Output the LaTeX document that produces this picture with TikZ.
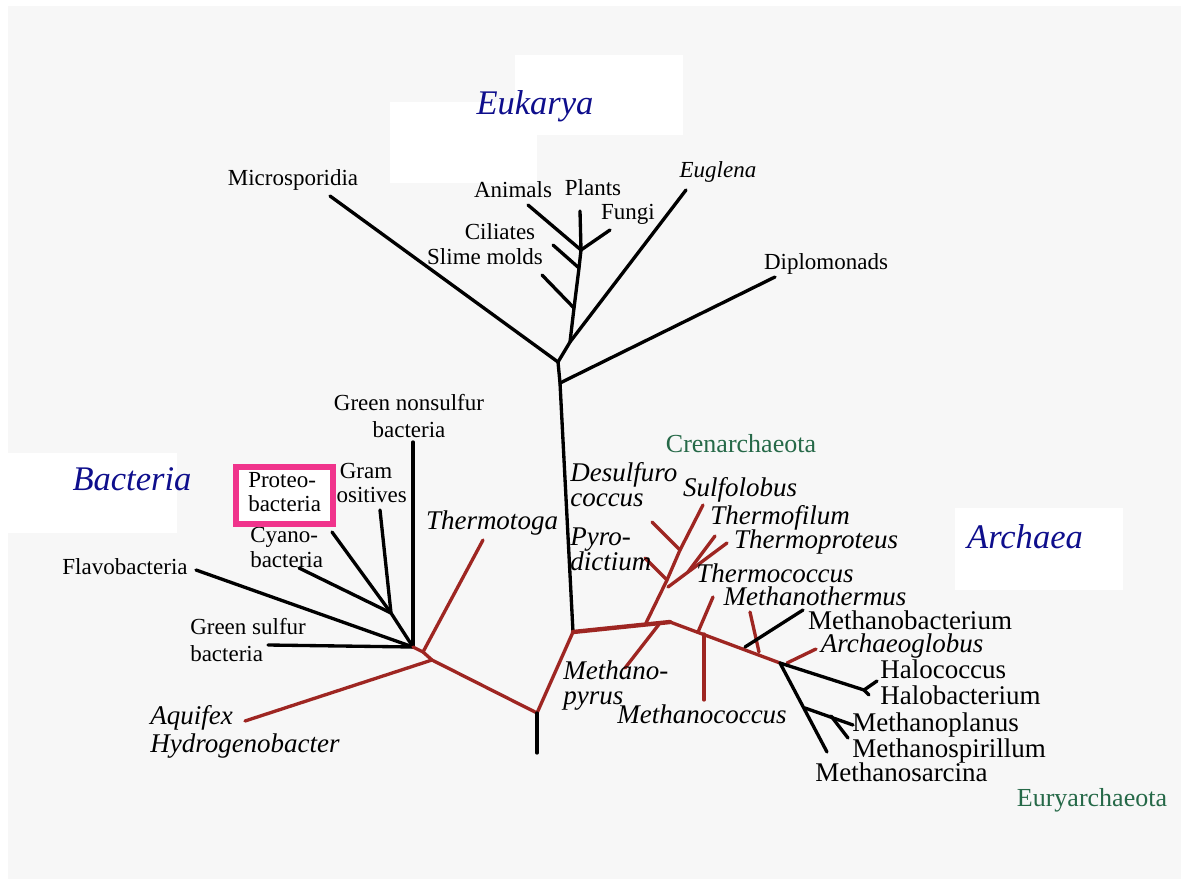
\documentclass[tikz,border=0pt]{standalone}
\usepackage{fontspec}
\setmainfont{Liberation Serif}
\definecolor{paper}{RGB}{247,247,247}
\definecolor{treered}{RGB}{158,38,34}
\definecolor{domainblue}{RGB}{14,14,140}
\definecolor{cladegreen}{RGB}{38,105,72}
\definecolor{boxpink}{RGB}{240,52,140}
\begin{document}
\begin{tikzpicture}[x=0.75pt,y=-0.75pt,
  taxon/.style={inner sep=0pt,anchor=base,font=\fontsize{17.25}{20.25}\selectfont},
  taxonL/.style={inner sep=0pt,anchor=base,font=\fontsize{20.25}{19}\selectfont},
  taxonI/.style={inner sep=0pt,anchor=base,font=\fontsize{20.25}{19}\selectfont\itshape},
  domainlbl/.style={inner sep=0pt,anchor=base,text=domainblue,font=\fontsize{25.9}{28}\selectfont\itshape},
  cladelbl/.style={inner sep=0pt,anchor=base,text=cladegreen,font=\fontsize{19.5}{22}\selectfont},
  blkline/.style={draw=black,line width=2.5pt,line cap=round,line join=round},
  redline/.style={draw=treered,line width=2.5pt,line cap=round,line join=round},
  redthick/.style={draw=treered,line width=3.3pt,line cap=round,line join=round},
  whitepatch/.style={fill=white,draw=none}]

% page and backdrop
\fill[white] (0,0) rectangle (1188,884);
\useasboundingbox (0,0) rectangle (1188,884);
\fill[paper] (8,6) rectangle (1181,879);
\fill[whitepatch] (515,55) rectangle (683,135);
\fill[whitepatch] (390,102) rectangle (537,183);
\fill[whitepatch] (8,453) rectangle (177,533);
\fill[whitepatch] (955,508) rectangle (1123,590);

% ---- junctions and tips ----
% Eukarya
\coordinate (A0) at (573,632);
\coordinate (eD) at (560,383);
\coordinate (eR) at (558,362);
\coordinate (eE) at (570,342);
\coordinate (eSl) at (574,308);
\coordinate (eCi) at (579,268);
\coordinate (eAF) at (581,250);
\coordinate (tMicro) at (330,196);
\coordinate (tDip) at (775,277);
\coordinate (tEug) at (686,190);
\coordinate (tSlime) at (542,275);
\coordinate (tCil) at (553,245);
\coordinate (tAni) at (528,205);
\coordinate (tFun) at (610,230);
\coordinate (tPla) at (580,211);
% Bacteria
\coordinate (bJ) at (413,647);
\coordinate (bK) at (391,613);
\coordinate (tGN) at (413,442);
\coordinate (tGram) at (380,510);
\coordinate (tProt) at (332,532);
\coordinate (tCya) at (299,568);
\coordinate (tFla) at (196,570);
\coordinate (tGS) at (268,645);
\coordinate (r1) at (423,652);
\coordinate (r2) at (432,660);
\coordinate (root) at (537,713);
\coordinate (rootT) at (537,753);
\coordinate (tTmt) at (483,540);
\coordinate (tAqu) at (245,721);
% Archaea
\coordinate (a1) at (646,623);
\coordinate (a2) at (660,623);
\coordinate (a3) at (670,622);
\coordinate (a4) at (698,632);
\coordinate (a5) at (704,634);
\coordinate (a6) at (745,647);
\coordinate (a7) at (759,652);
\coordinate (a8) at (780,663);
\coordinate (c1) at (667,580);
\coordinate (c0) at (668,587);
\coordinate (c2) at (680,550);
\coordinate (cF) at (688,572);
\coordinate (tSulfo) at (703,505);
\coordinate (tDesul) at (652,522);
\coordinate (tPyro) at (645,558);
\coordinate (tTfil) at (715,536);
\coordinate (tTpro) at (727,543);
\coordinate (tMpyr) at (625,668);
\coordinate (tTcoc) at (713,597);
\coordinate (tMcoc) at (704,700);
\coordinate (tMthe) at (750,612);
\coordinate (tMbac) at (803,610);
\coordinate (aAg) at (787,663);
\coordinate (tArch) at (816,649);
\coordinate (hJ) at (864,690);
\coordinate (tHcoc) at (877,681);
\coordinate (tHbac) at (869,695);
\coordinate (tMsar) at (827,752);
\coordinate (m1) at (805,708);
\coordinate (m2) at (831,716);
\coordinate (tMpla) at (853,725);
\coordinate (tMspi) at (848,738);

% ---- Eukarya branches ----
\draw[blkline] (A0) -- (eD) -- (eR) -- (eE) -- (eSl) -- (eCi) -- (eAF) -- (tPla);
\draw[blkline] (eR) -- (tMicro);
\draw[blkline] (eD) -- (tDip);
\draw[blkline] (eE) -- (tEug);
\draw[blkline] (eSl) -- (tSlime);
\draw[blkline] (eCi) -- (tCil);
\draw[blkline] (eAF) -- (tAni);
\draw[blkline] (eAF) -- (tFun);

% ---- Bacteria branches ----
\draw[blkline] (bJ) -- (tGN);
\draw[blkline] (bJ) -- (bK) -- (tGram);
\draw[blkline] (bK) -- (tProt);
\draw[blkline] (bK) -- (tCya);
\draw[blkline] (bJ) -- (tFla);
\draw[blkline] (bJ) -- (tGS);
\draw[redline] (bJ) -- (r1) -- (r2) -- (root) -- (A0);
\draw[redline] (r1) -- (tTmt);
\draw[redline] (r2) -- (tAqu);
\draw[blkline] (root) -- (rootT);

% ---- Archaea branches ----
\draw[redthick] (A0) -- (a3);
\draw[redline] (a3) -- (a8);
\draw[redline] (a1) -- (c1) -- (c2) -- (tSulfo);
\draw[redline] (c2) -- (tDesul);
\draw[redline] (c1) -- (tPyro);
\draw[redline] (c0) -- (tTpro);
\draw[redline] (cF) -- (tTfil);
\draw[redline] (a2) -- (tMpyr);
\draw[redline] (a4) -- (tTcoc);
\draw[redline] (a5) -- (tMcoc);
\draw[redline] (a7) -- (tMthe);
\draw[redline] (aAg) -- (tArch);
\draw[blkline] (a6) -- (tMbac);
\draw[blkline] (a8) -- (hJ) -- (tHcoc);
\draw[blkline] (hJ) -- (tHbac);
\draw[blkline] (a8) -- (tMsar);
\draw[blkline] (m1) -- (tMpla);
\draw[blkline] (m2) -- (tMspi);

% ---- domain names ----
\node[domainlbl] (dEuk) at (535,115) {Eukarya};
\node[domainlbl] (dBac) at (132,490) {Bacteria};
\node[domainlbl] (dArc) at (1025,548) {Archaea};

% ---- Eukarya labels ----
\node[taxon] (lMicro) at (293,186) {Microsporidia};
\node[taxon] (lAni) at (513,198) {Animals};
\node[taxon] (lPla) at (593,196) {Plants};
\node[taxon] (lFun) at (628,220) {Fungi};
\node[taxon] (lCil) at (500,240) {Ciliates};
\node[taxon] (lSli) at (485,265) {Slime molds};
\node[taxon,font=\fontsize{17.25}{20}\selectfont\itshape] (lEug) at (718,178) {Euglena};
\node[taxon] (lDip) at (826,270) {Diplomonads};

% ---- Bacteria labels (two-line labels sit on their last baseline) ----
\node[taxon,align=center,font=\fontsize{17.25}{20.25}\selectfont] (lGN) at (409,437) {Green nonsulfur\\bacteria};
\node[taxon,align=center,font=\fontsize{17.25}{18}\selectfont] (lGram) at (366,502) {Gram\\positives};
\node[taxon,anchor=base west,align=left,font=\fontsize{17.25}{18.75}\selectfont] (lCya) at (250,567) {Cyano-\\bacteria};
\draw[boxpink,line width=3.8pt,fill=white] (236,467) rectangle (333,524);
\node[taxon,anchor=base west,align=left,font=\fontsize{17.25}{18}\selectfont] (lProt) at (248,511) {Proteo-\\bacteria};
\node[taxon] (lFla) at (125,574) {Flavobacteria};
\node[taxon,anchor=base west,align=left,font=\fontsize{17.25}{20.25}\selectfont] (lGS) at (190,661) {Green sulfur\\bacteria};
\node[taxonI] (lTmt) at (492,529) {Thermotoga};
\node[taxonI,anchor=base west,align=left,font=\fontsize{20.25}{21}\selectfont\itshape] (lAqu) at (150,752) {Aquifex\\Hydrogenobacter};

% ---- Archaea labels ----
\node[cladelbl] (lCren) at (741,452) {Crenarchaeota};
\node[cladelbl] (lEury) at (1092,806) {Euryarchaeota};
\node[taxonI,anchor=base west,align=left,font=\fontsize{20.25}{18.75}\selectfont\itshape] (lDesul) at (570,506) {Desulfuro\\coccus};
\node[taxonI] (lSulfo) at (740,496) {Sulfolobus};
\node[taxonI] (lTfil) at (780,524) {Thermofilum};
\node[taxonI] (lTpro) at (816,548) {Thermoproteus};
\node[taxonI,anchor=base west,align=left,font=\fontsize{20.25}{18.75}\selectfont\itshape] (lPyro) at (570,570) {Pyro-\\dictium};
\node[taxonI] (lTcoc) at (775,582) {Thermococcus};
\node[taxonI] (lMthe) at (815,605) {Methanothermus};
\node[taxonL] (lMbac) at (910,629) {Methanobacterium};
\node[taxonI] (lArch) at (902,652) {Archaeoglobus};
\node[taxonL,anchor=base west] (lHcoc) at (880,678) {Halococcus};
\node[taxonL,anchor=base west] (lHbac) at (880,704) {Halobacterium};
\node[taxonL,anchor=base west] (lMpla) at (852,731) {Methanoplanus};
\node[taxonL,anchor=base west] (lMspi) at (852,757) {Methanospirillum};
\node[taxonL,anchor=base west] (lMsar) at (815,781) {Methanosarcina};
\node[taxonI,anchor=base west,align=left,font=\fontsize{20.25}{18.75}\selectfont\itshape] (lMpyr) at (563,704) {Methano-\\pyrus};
\node[taxonI] (lMcoc) at (702,723) {Methanococcus};
\end{tikzpicture}
\end{document}
